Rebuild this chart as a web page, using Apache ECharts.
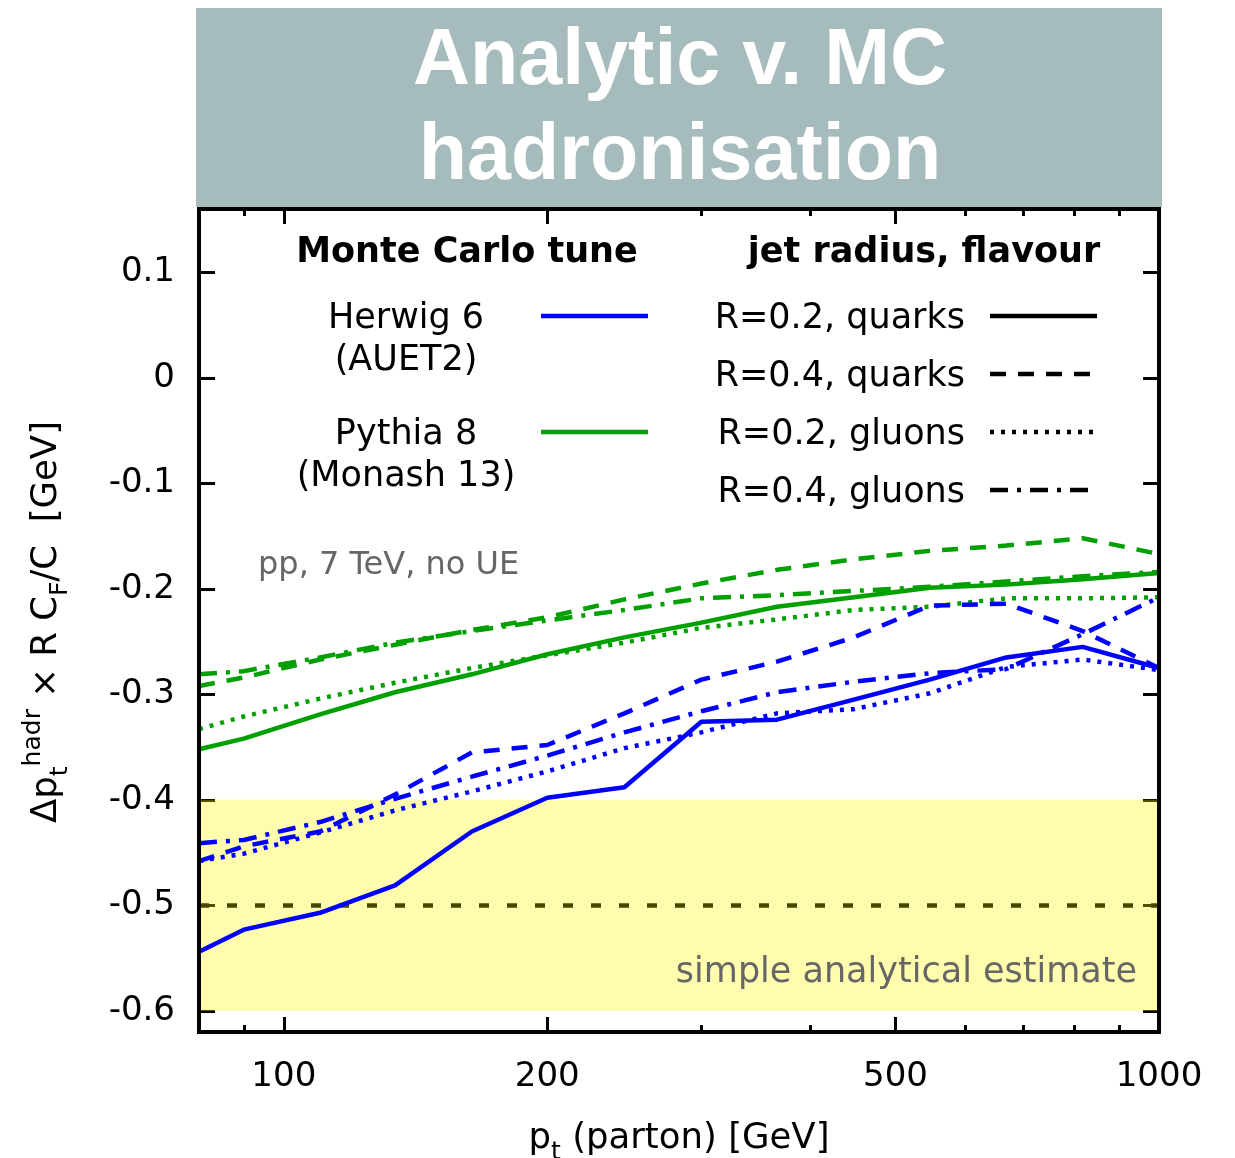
<!DOCTYPE html>
<html>
<head>
<meta charset="utf-8">
<title>Analytic v. MC hadronisation</title>
<script src="https://cdn.jsdelivr.net/npm/echarts@6/dist/echarts.min.js"></script>
<style>
  html, body { margin: 0; padding: 0; background: #ffffff; }
  #chart { width: 1235px; height: 1158px; }
</style>
</head>
<body>
<div id="chart"></div>
<script>
// parton transverse momentum grid [GeV]
const ptValues = [80, 90, 110, 134, 164, 200, 245, 300, 366, 448, 547, 669, 818, 1000];

// Herwig 6 (AUET2): Δpt^hadr × R CF/C [GeV]
const herwigR02Quarks = [-0.544, -0.523, -0.507, -0.481, -0.430, -0.398, -0.388, -0.326, -0.324, -0.305, -0.286, -0.265, -0.255, -0.275];
const herwigR04Quarks = [-0.458, -0.444, -0.430, -0.395, -0.355, -0.348, -0.318, -0.286, -0.269, -0.246, -0.216, -0.214, -0.240, -0.275];
const herwigR02Gluons = [-0.458, -0.451, -0.431, -0.410, -0.392, -0.373, -0.351, -0.336, -0.318, -0.314, -0.299, -0.274, -0.267, -0.277];
const herwigR04Gluons = [-0.441, -0.438, -0.421, -0.399, -0.378, -0.358, -0.336, -0.316, -0.298, -0.288, -0.280, -0.276, -0.243, -0.208];

// Pythia 8 (Monash 13)
const pythiaR02Quarks = [-0.352, -0.342, -0.319, -0.298, -0.281, -0.262, -0.246, -0.232, -0.217, -0.208, -0.199, -0.196, -0.191, -0.185];
const pythiaR04Quarks = [-0.292, -0.284, -0.267, -0.253, -0.239, -0.227, -0.210, -0.195, -0.182, -0.172, -0.164, -0.159, -0.152, -0.167];
const pythiaR02Gluons = [-0.333, -0.321, -0.304, -0.289, -0.275, -0.263, -0.251, -0.237, -0.229, -0.220, -0.217, -0.209, -0.209, -0.208];
const pythiaR04Gluons = [-0.281, -0.278, -0.265, -0.251, -0.240, -0.230, -0.220, -0.209, -0.206, -0.202, -0.198, -0.193, -0.188, -0.184];

// simple analytical estimate and its band
const analyticEstimate = -0.5;
const analyticBand = [-0.6, -0.4];

// axis ticks
const xMajorTicks = [100, 200, 500, 1000];
const xMinorTicks = [90, 300, 400, 600, 700, 800, 900];
const yTicks = [-0.6, -0.5, -0.4, -0.3, -0.2, -0.1, 0, 0.1];

// ---- layout & style ----
const G = { left: 199, top: 209, width: 960, height: 823 };
const FONT = 'DejaVu Sans';
const BLUE = '#0000ff';
const GREEN = '#00a000';
const DASH = [16, 12];
const DOT = [4, 7];
const DASHDOT = [18, 9, 4, 9];
const LW = 4.5;

function pairs(ys) { return ptValues.map((x, i) => [x, ys[i]]); }

function curve(name, ys, color, dash) {
  return {
    type: 'line', name: name, data: pairs(ys),
    xAxisIndex: 0, yAxisIndex: 0, z: 5,
    symbol: 'none', silent: true, animation: false,
    lineStyle: { color: color, width: LW, type: dash || 'solid', cap: 'butt', join: 'round' }
  };
}

const tickStyle = { color: '#000', width: 3 };
const xBase = {
  type: 'log', logBase: 10, min: 80, max: 1000, gridIndex: 0,
  axisLine: { show: false, onZero: false }, splitLine: { show: false },
  minorTick: { show: false }, minorSplitLine: { show: false }
};
const majorTickX = { inside: true, length: 15, customValues: xMajorTicks, lineStyle: tickStyle };
const minorTickX = { inside: true, length: 7, customValues: xMinorTicks, lineStyle: tickStyle };
const yBase = {
  type: 'value', min: -0.62, max: 0.16, gridIndex: 0,
  axisLine: { show: false, onZero: false }, splitLine: { show: false }
};
const tickY = { inside: true, length: 16, customValues: yTicks, lineStyle: tickStyle };

const textFont = { fontFamily: FONT, fontSize: 35, fill: '#000' };

function legendLine(x1, x2, y, color, dash) {
  return {
    type: 'line', z: 20, silent: true,
    shape: { x1: x1, y1: y, x2: x2, y2: y },
    style: { stroke: color, lineWidth: LW, lineDash: dash || null, lineCap: 'butt' }
  };
}
function label(text, x, y, align, extra) {
  return {
    type: 'text', z: 20, silent: true, x: x, y: y + 3,
    style: Object.assign({ text: text, align: align, verticalAlign: 'middle' }, textFont, extra || {})
  };
}

const richSub = {
  m: { fontFamily: FONT, fontSize: 35.5, lineHeight: 52, verticalAlign: 'middle', color: '#000' },
  sub: { fontFamily: FONT, fontSize: 25, lineHeight: 27, verticalAlign: 'bottom', color: '#000' },
  sup: { fontFamily: FONT, fontSize: 25, lineHeight: 27, verticalAlign: 'top', color: '#000' }
};

const chart = echarts.init(document.getElementById('chart'), null, { renderer: 'canvas' });

chart.setOption({
  animation: false,
  backgroundColor: '#ffffff',
  grid: { left: G.left, top: G.top, width: G.width, height: G.height, containLabel: false },
  xAxis: [
    Object.assign({}, xBase, {
      position: 'bottom',
      axisTick: majorTickX,
      axisLabel: {
        customValues: xMajorTicks, formatter: v => String(v),
        fontFamily: FONT, fontSize: 34, color: '#000', margin: 28
      }
    }),
    Object.assign({}, xBase, { position: 'bottom', axisTick: minorTickX, axisLabel: { show: false } }),
    Object.assign({}, xBase, { position: 'top', axisTick: majorTickX, axisLabel: { show: false } }),
    Object.assign({}, xBase, { position: 'top', axisTick: minorTickX, axisLabel: { show: false } })
  ],
  yAxis: [
    Object.assign({}, yBase, {
      position: 'left',
      axisTick: tickY,
      axisLabel: {
        customValues: yTicks, formatter: v => String(v),
        fontFamily: FONT, fontSize: 34, color: '#000', margin: 24
      }
    }),
    Object.assign({}, yBase, { position: 'right', axisTick: tickY, axisLabel: { show: false } })
  ],
  series: [
    // dashed analytic estimate, drawn beneath the translucent band
    {
      type: 'line', data: [], xAxisIndex: 0, yAxisIndex: 0, z: 1, silent: true,
      markLine: {
        silent: true, symbol: 'none', animation: false,
        label: { show: false },
        lineStyle: { color: '#4a4700', width: LW, type: [10, 18], cap: 'butt' },
        data: [{ yAxis: analyticEstimate }]
      }
    },
    {
      type: 'line', data: [], xAxisIndex: 0, yAxisIndex: 0, z: 3, silent: true,
      markArea: {
        silent: true, animation: false,
        label: { show: false },
        itemStyle: { color: 'rgba(255, 247, 0, 0.32)' },
        data: [[{ yAxis: analyticBand[1] }, { yAxis: analyticBand[0] }]]
      }
    },
    curve('Pythia 8, R=0.2 quarks', pythiaR02Quarks, GREEN),
    curve('Pythia 8, R=0.4 quarks', pythiaR04Quarks, GREEN, DASH),
    curve('Pythia 8, R=0.2 gluons', pythiaR02Gluons, GREEN, DOT),
    curve('Pythia 8, R=0.4 gluons', pythiaR04Gluons, GREEN, DASHDOT),
    curve('Herwig 6, R=0.2 quarks', herwigR02Quarks, BLUE),
    curve('Herwig 6, R=0.4 quarks', herwigR04Quarks, BLUE, DASH),
    curve('Herwig 6, R=0.2 gluons', herwigR02Gluons, BLUE, DOT),
    curve('Herwig 6, R=0.4 gluons', herwigR04Gluons, BLUE, DASHDOT)
  ],
  graphic: [
    // title banner
    {
      type: 'rect', z: 20, silent: true,
      shape: { x: 196, y: 8, width: 966, height: 199 },
      style: { fill: '#a6bbbc' }
    },
    {
      type: 'text', z: 21, silent: true, x: 680, y: 62,
      style: { text: 'Analytic v. MC', align: 'center', verticalAlign: 'middle',
        fontFamily: 'Liberation Sans', fontWeight: 'bold', fontSize: 79, fill: '#ffffff' }
    },
    {
      type: 'text', z: 21, silent: true, x: 680, y: 157,
      style: { text: 'hadronisation', align: 'center', verticalAlign: 'middle',
        fontFamily: 'Liberation Sans', fontWeight: 'bold', fontSize: 79, fill: '#ffffff' }
    },
    // plot frame
    {
      type: 'rect', z: 30, silent: true,
      shape: { x: G.left, y: G.top, width: G.width, height: G.height },
      style: { fill: null, stroke: '#000', lineWidth: 4 }
    },
    // legend headers
    label('Monte Carlo tune', 467, 250, 'center', { fontWeight: 'bold' }),
    label('jet radius, flavour', 924, 250, 'center', { fontWeight: 'bold' }),
    // generator entries
    label('Herwig 6\n(AUET2)', 406, 337, 'center', { lineHeight: 42 }),
    legendLine(541, 648, 316, BLUE),
    label('Pythia 8\n(Monash 13)', 406, 453, 'center', { lineHeight: 42 }),
    legendLine(541, 648, 432, GREEN),
    // radius / flavour entries
    label('R=0.2, quarks', 965, 316, 'right'),
    legendLine(990, 1097, 316, '#000'),
    label('R=0.4, quarks', 965, 374, 'right'),
    legendLine(990, 1097, 374, '#000', DASH),
    label('R=0.2, gluons', 965, 432, 'right'),
    legendLine(990, 1097, 432, '#000', DOT),
    label('R=0.4, gluons', 965, 490, 'right'),
    legendLine(990, 1097, 490, '#000', DASHDOT),
    // annotations
    label('pp, 7 TeV, no UE', 258, 563, 'left', { fontSize: 32, fill: '#666666' }),
    label('simple analytical estimate', 1137, 970, 'right', { fill: '#666666' }),
    // axis titles
    {
      type: 'text', z: 20, silent: true, x: 679, y: 1139,
      style: { text: '{m|p}{sub|t}{m| (parton) [GeV]}', rich: richSub, align: 'center', verticalAlign: 'middle' }
    },
    {
      type: 'text', z: 20, silent: true, x: 47, y: 622, rotation: Math.PI / 2,
      style: { text: '{m|Δp}{sub|t}{sup|hadr}{m| × R C}{sub|F}{m|/C  [GeV]}', rich: richSub, align: 'center', verticalAlign: 'middle' }
    }
  ]
});
</script>
</body>
</html>
